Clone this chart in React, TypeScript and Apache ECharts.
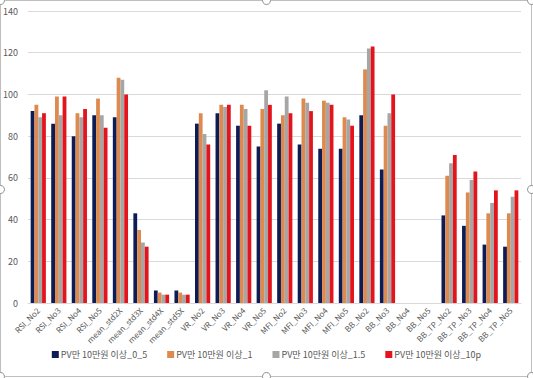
import React, { useEffect, useRef } from "react";
import * as echarts from "echarts";

const categories = [
  "RSI_No2", "RSI_No3", "RSI_No4", "RSI_No5",
  "mean_std2X", "mean_std3X", "mean_std4X", "mean_std5X",
  "VR_No2", "VR_No3", "VR_No4", "VR_No5",
  "MFI_No2", "MFI_No3", "MFI_No4", "MFI_No5",
  "BB_No2", "BB_No3", "BB_No4", "BB_No5",
  "BB_TP_No2", "BB_TP_No3", "BB_TP_No4", "BB_TP_No5",
];

const seriesNames = [
  "PV만 10만원 이상_0_5",
  "PV만 10만원 이상_1",
  "PV만 10만원 이상_1.5",
  "PV만 10만원 이상_10p",
];

const s05 = [92, 86, 80, 90, 89, 43, 6, 6, 86, 91, 85, 75, 86, 76, 74, 74, 90, 64, null, null, 42, 37, 28, 27];
const s1 = [95, 99, 91, 98, 108, 35, 5, 5, 91, 95, 95, 93, 90, 98, 97, 89, 112, 85, null, null, 61, 53, 43, 43];
const s15 = [89, 90, 89, 90, 107, 29, 4, 4, 81, 94, 93, 102, 99, 96, 96, 88, 122, 91, null, null, 67, 59, 48, 51];
const s10p = [91, 99, 93, 84, 100, 27, 4, 4, 76, 95, 85, 95, 91, 92, 95, 85, 123, 100, null, null, 71, 63, 54, 54];

const colors = ["#0E1C56", "#DE8A4E", "#A6A6A6", "#E3141B"];

export default function App() {
  const ref = useRef<HTMLDivElement>(null);
  useEffect(() => {
    if (!ref.current) return;
    const chart = echarts.init(ref.current, null, { renderer: "svg" });
    const data = [s05, s1, s15, s10p];
    chart.setOption({
      animation: false,
      backgroundColor: "#ffffff",
      color: colors,
      textStyle: { fontFamily: "'Noto Sans CJK KR', 'Noto Sans', sans-serif" },
      grid: { left: 28, right: 12, top: 11, bottom: 75, containLabel: false },
      legend: {
        bottom: 14,
        left: "center",
        itemWidth: 7,
        itemHeight: 7,
        itemGap: 20,
        icon: "rect",
        textStyle: { fontSize: 9, color: "#595959", padding: [0, 0, 0, -3] },
        data: seriesNames,
      },
      xAxis: {
        type: "category",
        data: categories,
        axisTick: { show: false },
        axisLine: { lineStyle: { color: "#D9D9D9" } },
        axisLabel: { rotate: 45, fontSize: 8, color: "#595959", interval: 0, margin: 6 },
      },
      yAxis: {
        type: "value",
        min: 0,
        max: 140,
        interval: 20,
        axisLine: { show: false },
        axisTick: { show: false },
        axisLabel: { fontSize: 9, color: "#595959", margin: 10 },
        splitLine: { lineStyle: { color: "#D9D9D9" } },
      },
      series: seriesNames.map((name, i) => ({
        name,
        type: "bar",
        data: data[i],
        barGap: "0%",
        barCategoryGap: "26%",
        itemStyle: { color: colors[i] },
      })),
      graphic: [
        {
          type: "rect",
          shape: { x: 0.5, y: 0.5, width: 531, height: 376 },
          style: { fill: "none", stroke: "#BFBFBF", lineWidth: 1 },
          silent: true,
        },
        ...[
          [0, 0], [266, 0], [531, 0], [531, 189], [531, 376], [266, 376], [0, 376], [0, 189],
        ].map(([x, y]) => ({
          type: "circle",
          shape: { cx: x + 0.5, cy: y + 0.5, r: 4 },
          style: { fill: "#ffffff", stroke: "#8C8C8C", lineWidth: 1 },
          silent: true,
        })),
      ],
    });
    return () => chart.dispose();
  }, []);
  return (
    <div
      ref={ref}
      style={{ position: "fixed", left: 0, top: 0, width: 533, height: 378 }}
    />
  );
}
